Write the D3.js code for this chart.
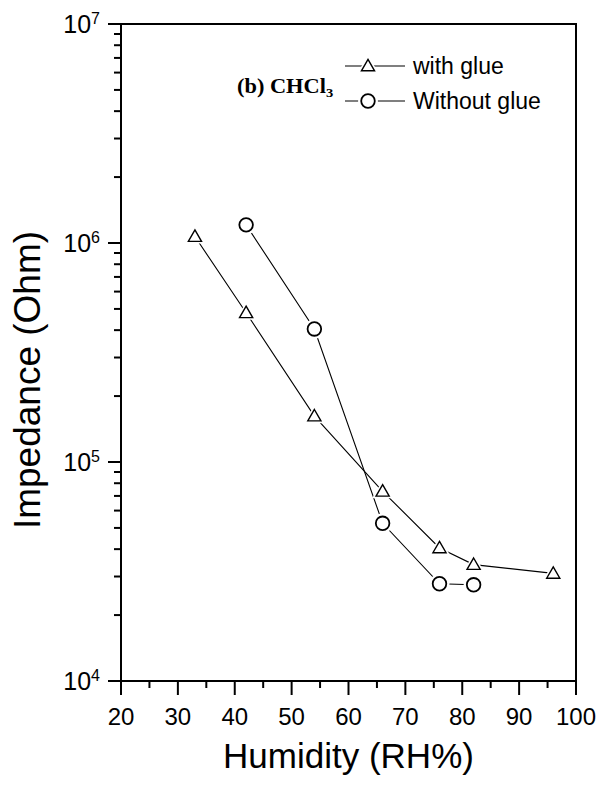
<!DOCTYPE html>
<html>
<head>
<meta charset="utf-8">
<script src="https://cdn.jsdelivr.net/npm/d3@7/dist/d3.min.js"></script>
<style>
  html, body { margin: 0; padding: 0; background: #fff; }
  svg { display: block; }
  text { font-family: "Liberation Sans", Arial, sans-serif; fill: #000; }
</style>
</head>
<body>
<svg id="chart" width="602" height="785"></svg>
<script>
// Impedance vs. relative humidity, CHCl3 sensor, with and without glue
const humidityWithGlue = [33, 42, 54, 66, 76, 82, 96];
const impedanceWithGlue = [1.07e6, 4.8e5, 1.62e5, 7.35e4, 4.05e4, 3.4e4, 3.1e4];
const humidityNoGlue = [42, 54, 66, 76, 82];
const impedanceNoGlue = [1.21e6, 4.05e5, 5.25e4, 2.78e4, 2.75e4];
const xTicks = [20, 30, 40, 50, 60, 70, 80, 90, 100];
const yExponents = [4, 5, 6, 7];
const seriesNames = ["with glue", "Without glue"];
const panelLabel = "(b) CHCl";

const svg = d3.select("#chart");
const plotL = 121, plotR = 576, plotT = 24, plotB = 681;

const x = d3.scaleLinear().domain([20, 100]).range([plotL, plotR]);
const y = d3.scaleLog().domain([1e4, 1e7]).range([plotB, plotT]);

// frame
svg.append("rect")
  .attr("x", plotL).attr("y", plotT)
  .attr("width", plotR - plotL).attr("height", plotB - plotT)
  .attr("fill", "none").attr("stroke", "#000").attr("stroke-width", 2);

// x axis: major ticks every 10, minor every 5, pointing outward
const xMinor = d3.range(25, 100, 10);
svg.append("g").selectAll("line").data(xMinor).join("line")
  .attr("x1", d => x(d)).attr("x2", d => x(d))
  .attr("y1", plotB).attr("y2", plotB + 7)
  .attr("stroke", "#000").attr("stroke-width", 2);
svg.append("g").selectAll("line").data(xTicks).join("line")
  .attr("x1", d => x(d)).attr("x2", d => x(d))
  .attr("y1", plotB).attr("y2", plotB + 14)
  .attr("stroke", "#000").attr("stroke-width", 2);
svg.append("g").selectAll("text").data(xTicks).join("text")
  .attr("x", d => x(d)).attr("y", 725)
  .attr("text-anchor", "middle")
  .attr("font-size", 24)
  .text(d => d);

// y axis: decades with minor ticks at 2..9, pointing outward
const yMinor = [];
for (let e = 4; e < 7; e++) for (let m = 2; m <= 9; m++) yMinor.push(m * Math.pow(10, e));
svg.append("g").selectAll("line").data(yMinor).join("line")
  .attr("x1", plotL - 7).attr("x2", plotL)
  .attr("y1", d => y(d)).attr("y2", d => y(d))
  .attr("stroke", "#000").attr("stroke-width", 2);
svg.append("g").selectAll("line").data(yExponents).join("line")
  .attr("x1", plotL - 13).attr("x2", plotL)
  .attr("y1", d => y(Math.pow(10, d))).attr("y2", d => y(Math.pow(10, d)))
  .attr("stroke", "#000").attr("stroke-width", 2);
const yLab = svg.append("g").selectAll("text").data(yExponents).join("text")
  .attr("x", 100).attr("y", d => y(Math.pow(10, d)) + 9)
  .attr("text-anchor", "end")
  .attr("font-size", 25);
yLab.append("tspan").text("10");
yLab.append("tspan").attr("font-size", 16).attr("dy", -9).text(d => d);

// axis titles
svg.append("text")
  .attr("x", (plotL + plotR) / 2).attr("y", 768)
  .attr("text-anchor", "middle").attr("font-size", 35)
  .text("Humidity (RH%)");
svg.append("text")
  .attr("transform", "translate(40,380) rotate(-90)")
  .attr("text-anchor", "middle").attr("font-size", 37)
  .text("Impedance (Ohm)");

// series
const line = d3.line().x(d => x(d[0])).y(d => y(d[1]));
const triangle = d3.symbol().type(d3.symbolTriangle);
const series = [
  { name: seriesNames[0], pts: d3.zip(humidityWithGlue, impedanceWithGlue), shape: "tri" },
  { name: seriesNames[1], pts: d3.zip(humidityNoGlue, impedanceNoGlue), shape: "circ" }
];

function drawMarker(g, shape, cx, cy) {
  if (shape === "tri") {
    g.append("path").attr("d", triangle.size(190)())
      .attr("transform", `translate(${cx},${cy + 1})`)
      .attr("fill", "#fff");
    g.append("path").attr("d", triangle.size(75)())
      .attr("transform", `translate(${cx},${cy + 1})`)
      .attr("fill", "#fff").attr("stroke", "#000").attr("stroke-width", 1.4);
  } else {
    g.append("circle").attr("cx", cx).attr("cy", cy).attr("r", 10).attr("fill", "#fff");
    g.append("circle").attr("cx", cx).attr("cy", cy).attr("r", 6.8)
      .attr("fill", "#fff").attr("stroke", "#000").attr("stroke-width", 1.8);
  }
}

series.forEach(s => {
  svg.append("path").datum(s.pts).attr("d", line)
    .attr("fill", "none").attr("stroke", "#000").attr("stroke-width", 1.1);
});
series.forEach(s => {
  const g = svg.append("g");
  s.pts.forEach(p => drawMarker(g, s.shape, x(p[0]), y(p[1])));
});

// legend
const legend = svg.append("g");
const legendRows = [66, 101];
series.forEach((s, i) => {
  const ly = legendRows[i];
  legend.append("line").attr("x1", 345).attr("x2", 405).attr("y1", ly).attr("y2", ly)
    .attr("stroke", "#000").attr("stroke-width", 1.1);
  drawMarker(legend, s.shape, 368, ly);
  legend.append("text").attr("x", 413).attr("y", ly + 8)
    .attr("font-size", 23).text(s.name);
});
const lab = legend.append("text").attr("x", 237).attr("y", 93)
  .style("font-family", "'Liberation Serif', 'Times New Roman', serif")
  .attr("font-weight", "bold").attr("font-size", 20)
  .attr("transform", "translate(237,0) scale(1.12,1) translate(-237,0)");
lab.append("tspan").text(panelLabel);
lab.append("tspan").attr("font-size", 13).attr("dy", 4).text("3");
</script>
</body>
</html>
